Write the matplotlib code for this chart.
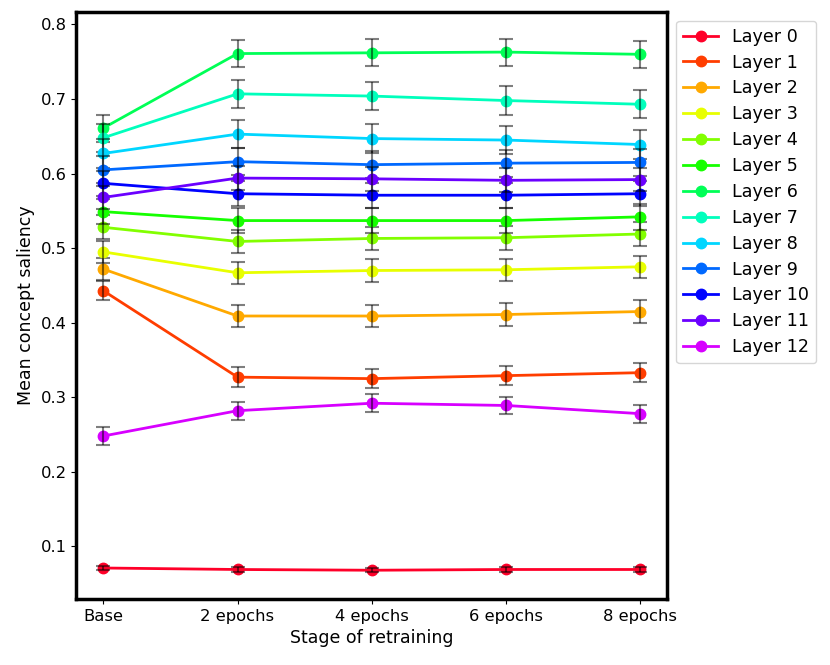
import numpy as np
import matplotlib
matplotlib.use('Agg')
import matplotlib.pyplot as plt

stages = ['Base', '2 epochs', '4 epochs', '6 epochs', '8 epochs']
layers = ['Layer %d' % i for i in range(13)]

# mean concept saliency per layer, one value per stage
layer0 = [0.071, 0.069, 0.068, 0.069, 0.069]
layer1 = [0.443, 0.327, 0.325, 0.329, 0.333]
layer2 = [0.472, 0.409, 0.409, 0.411, 0.415]
layer3 = [0.495, 0.467, 0.470, 0.471, 0.475]
layer4 = [0.528, 0.509, 0.513, 0.514, 0.519]
layer5 = [0.549, 0.537, 0.537, 0.537, 0.542]
layer6 = [0.661, 0.761, 0.762, 0.763, 0.760]
layer7 = [0.648, 0.707, 0.704, 0.698, 0.693]
layer8 = [0.627, 0.653, 0.647, 0.645, 0.639]
layer9 = [0.605, 0.616, 0.612, 0.614, 0.615]
layer10 = [0.587, 0.573, 0.571, 0.571, 0.573]
layer11 = [0.568, 0.594, 0.593, 0.591, 0.592]
layer12 = [0.248, 0.282, 0.292, 0.289, 0.278]

# standard error per layer (roughly constant over stages)
errs = [0.003, 0.013, 0.015, 0.015, 0.016, 0.017, 0.018,
        0.019, 0.019, 0.018, 0.017, 0.016, 0.012]

means = [layer0, layer1, layer2, layer3, layer4, layer5, layer6,
         layer7, layer8, layer9, layer10, layer11, layer12]

fig = plt.figure(figsize=(8.3, 6.65), dpi=100)
ax = fig.add_axes([0.092, 0.099, 0.712, 0.883])

x = np.arange(len(stages))
for i, (name, m) in enumerate(zip(layers, means)):
    c = plt.cm.gist_rainbow(i / 13.0)
    ax.plot(x, m, color=c, marker='o', markersize=7.5, linewidth=2, label=name)
    ax.errorbar(x, m, yerr=errs[i], fmt='none', ecolor='black', alpha=0.5,
                capsize=5, elinewidth=1.5, capthick=1.5)

ax.set_xticks(x)
ax.set_xticklabels(stages, fontsize=11.8)
ax.tick_params(axis='y', labelsize=11.8)
ax.set_xlabel('Stage of retraining', fontsize=12.5)
ax.set_ylabel('Mean concept saliency', fontsize=12.5)
for s in ax.spines.values():
    s.set_linewidth(2.5)

ax.legend(loc='upper left', bbox_to_anchor=(1.0, 1.0), fontsize=12.6,
          labelspacing=0.45)
fig.savefig('out.png', dpi=100)
